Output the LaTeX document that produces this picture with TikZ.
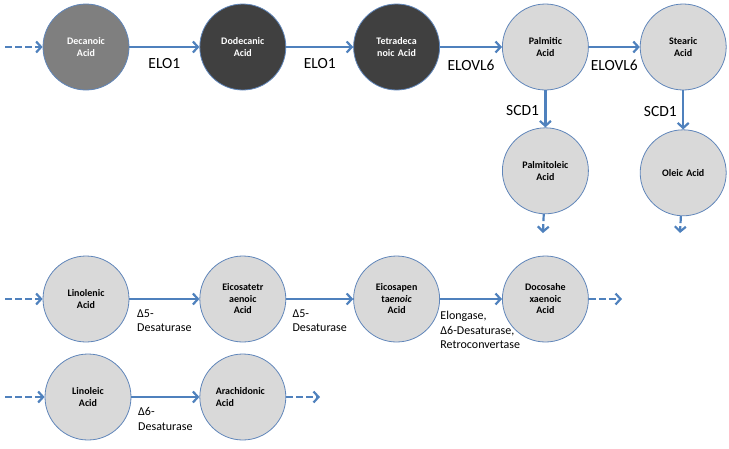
\documentclass[tikz,border=0pt]{standalone}
\usepackage{fontspec}
\setmainfont{Carlito}
\usetikzlibrary{arrows.meta, positioning}
\definecolor{linkblue}{RGB}{79,129,189}
\definecolor{rimblue}{RGB}{96,134,186}
\definecolor{paleacid}{RGB}{217,217,217}
\definecolor{midacid}{RGB}{127,127,127}
\definecolor{darkacid}{RGB}{64,64,64}

\begin{document}
\begin{tikzpicture}[x=1pt, y=-1pt, >={Straight Barb[length=5pt, width=11pt]}]
  \tikzstyle{acid} = [circle, draw=rimblue, line width=0.8pt, fill=paleacid, minimum size=86pt, inner sep=0pt, text width=58pt, align=center, font=\fontsize{10}{11.5}\selectfont\bfseries]
  \tikzstyle{acidmid} = [acid, fill=midacid, text=white]
  \tikzstyle{aciddark} = [acid, fill=darkacid, text=white]
  \tikzstyle{flow} = [->, line width=2.2pt, linkblue]
  \tikzstyle{feed} = [flow, dash pattern=on 7pt off 3pt]
  \tikzstyle{enzyme} = [text=black, font=\fontsize{15.5}{17}\selectfont]
  \tikzstyle{enzsmall} = [text=black, align=left, font=\fontsize{12}{14.5}\selectfont]

  \useasboundingbox (0,0) rectangle (729,448);

  % saturated chain
  \node [acidmid] (dec) at (86,47) {Decanoic\\Acid};
  \node [aciddark, right=70pt of dec] (dodec) {Dodecanic\\Acid};
  \node [aciddark, right=67pt of dodec] (tetra) {Tetradeca\\noic Acid};
  \node [acid, right=62pt of tetra] (palm) {Palmitic\\Acid};
  \node [acid, right=51pt of palm] (stear) {Stearic\\Acid};
  \node [acid, below=37pt of palm] (palmol) {Palmitoleic\\Acid};
  \node [acid, below=39pt of stear] (oleic) {Oleic Acid};

  \coordinate (decin) at (5,47);
  \coordinate (palmout) at (543,233);
  \coordinate (oleout) at (680,233);

  \draw [feed] (decin) -- (dec);
  \draw [flow] (dec) -- node [enzyme, below=7pt] {ELO1} (dodec);
  \draw [flow] (dodec) -- node [enzyme, below=7pt] {ELO1} (tetra);
  \draw [flow] (tetra) -- node [enzyme, below=9pt] {ELOVL6} (palm);
  \draw [flow] (palm) -- node [enzyme, below=9pt] {ELOVL6} (stear);
  \draw [flow] (palm) -- node [enzyme, left=2pt, pos=0.55] {SCD1} (palmol);
  \draw [flow] (stear) -- node [enzyme, left=2pt, pos=0.55] {SCD1} (oleic);
  \draw [feed] (palmol) -- (palmout);
  \draw [feed] (oleic) -- (oleout);

  % omega-3 chain
  \node [acid] (linolen) at (86,299) {Linolenic\\Acid};
  \node [acid, right=70pt of linolen] (eicote) {Eicosatetr\\aenoic\\Acid};
  \node [acid, right=67pt of eicote] (eicopen) {Eicosapen\\ta\textit{enoic}\\Acid};
  \node [acid, right=62pt of eicopen] (docosa) {Docosahe\\xaenoic\\Acid};

  \coordinate (linolenin) at (5,299);
  \coordinate (docosaout) at (622,299);

  \draw [feed] (linolenin) -- (linolen);
  \draw [flow] (linolen) -- node [enzsmall, below=6pt] {Δ5-\\Desaturase} (eicote);
  \draw [flow] (eicote) -- node [enzsmall, below=6pt] {Δ5-\\Desaturase} (eicopen);
  \draw [flow] (eicopen) -- node [enzsmall, pos=0, anchor=north west, xshift=-4pt, yshift=-8pt] {Elongase,\\Δ6-Desaturase,\\Retroconvertase} (docosa);
  \draw [feed] (docosa) -- (docosaout);

  % omega-6 chain
  \node [acid] (linole) at (88,397) {Linoleic\\Acid};
  \node [acid, right=68pt of linole, text width=54pt, align=left] (arach) {Arachidonic\\Acid};

  \coordinate (linolein) at (5,397);
  \coordinate (arachout) at (320,397);

  \draw [feed] (linolein) -- (linole);
  \draw [flow] (linole) -- node [enzsmall, below=6pt] {Δ6-\\Desaturase} (arach);
  \draw [feed] (arach) -- (arachout);
\end{tikzpicture}
\end{document}
